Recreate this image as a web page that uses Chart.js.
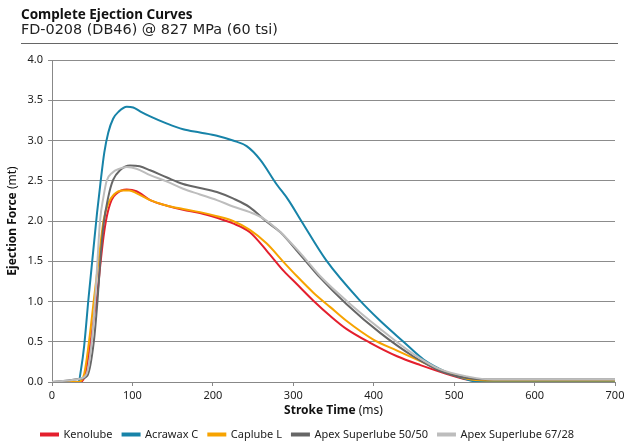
<!DOCTYPE html>
<html>
<head>
<meta charset="utf-8">
<script src="https://cdn.jsdelivr.net/npm/chart.js@4/dist/chart.umd.min.js"></script>
<style>
  body { margin: 0; width: 624px; height: 444px; overflow: hidden; background: #fff; font-family: "Noto Sans", sans-serif; }
  #title { position: absolute; left: 21px; top: 5px; font-size: 13.5px; font-weight: bold; color: #111; }
  #subtitle { position: absolute; left: 21px; top: 21px; font-family: "DejaVu Sans", sans-serif; font-size: 14.4px; color: #222; }
  #rule { position: absolute; left: 21px; top: 43px; width: 597px; height: 1px; background: #666; }
  #wrap { position: absolute; left: 0; top: 0; width: 624px; height: 444px; }
</style>
</head>
<body>
<div id="wrap"><canvas id="chart"></canvas></div>
<div id="title">Complete Ejection Curves</div>
<div id="subtitle">FD-0208 (DB46) @ 827 MPa (60 tsi)</div>
<div id="rule"></div>
<script>
// stroke time (ms) / ejection force (mt)
const kenoT = [0, 35, 41, 45, 48, 52, 56, 60, 64, 68, 74, 80, 93, 105, 122, 143, 163, 184, 205, 225, 246, 267, 288, 304, 325, 346, 366, 395, 429, 458, 491, 516, 540, 700];
const kenoF = [0, 0, 0.08, 0.3, 0.5, 0.8, 1.05, 1.45, 1.8, 2.05, 2.26, 2.34, 2.39, 2.37, 2.26, 2.19, 2.14, 2.10, 2.04, 1.97, 1.86, 1.63, 1.38, 1.22, 1.01, 0.82, 0.66, 0.49, 0.32, 0.21, 0.10, 0.03, 0.01, 0.01];

const acraT = [0, 33, 36, 40, 45.5, 51, 56, 60, 65, 70, 76, 83, 93, 101, 110, 122, 143, 163, 184, 205, 225, 242, 259, 279, 294, 310, 341, 383, 408, 437, 462, 491, 516, 532, 700];
const acraF = [0, 0, 0.15, 0.45, 1.05, 1.6, 2.1, 2.45, 2.85, 3.1, 3.27, 3.36, 3.42, 3.41, 3.36, 3.30, 3.21, 3.14, 3.10, 3.06, 3.0, 2.93, 2.76, 2.46, 2.26, 2.0, 1.51, 1.01, 0.76, 0.5, 0.28, 0.12, 0.03, 0, 0];

const capT = [0, 33, 40, 46, 53, 59, 64, 70, 77, 88, 96, 106, 122, 143, 163, 184, 205, 225, 246, 267, 288, 304, 325, 346, 366, 399, 429, 458, 491, 516, 540, 700];
const capF = [0, 0, 0.1, 0.5, 1.1, 1.6, 2.0, 2.22, 2.33, 2.38, 2.38, 2.34, 2.26, 2.19, 2.15, 2.11, 2.06, 2.0, 1.89, 1.72, 1.49, 1.32, 1.11, 0.93, 0.76, 0.53, 0.39, 0.26, 0.12, 0.04, 0.02, 0.02];

const apex50T = [0, 20, 35, 44, 52, 56.5, 60, 64, 70, 76, 84.5, 97, 109, 122, 143, 163, 184, 205, 225, 246, 267, 284, 308, 333, 366, 408, 449, 482, 516, 553, 700];
const apex50F = [0, 0.02, 0.04, 0.08, 0.5, 1.0, 1.5, 1.95, 2.3, 2.51, 2.63, 2.69, 2.68, 2.63, 2.54, 2.46, 2.41, 2.36, 2.28, 2.17, 1.99, 1.86, 1.59, 1.30, 0.97, 0.61, 0.32, 0.14, 0.05, 0.03, 0.03];

const apex67T = [0, 20, 35, 43, 49.4, 53.5, 56.5, 59.7, 64, 68, 75, 84, 93, 105, 122, 143, 163, 184, 205, 225, 246, 263, 284, 308, 333, 366, 408, 449, 482, 516, 549, 700];
const apex67F = [0, 0.02, 0.04, 0.1, 0.5, 1.0, 1.5, 2.0, 2.3, 2.5, 2.6, 2.65, 2.67, 2.65, 2.57, 2.49, 2.40, 2.33, 2.26, 2.18, 2.11, 2.03, 1.86, 1.61, 1.32, 1.01, 0.66, 0.35, 0.16, 0.07, 0.03, 0.03];

const seriesNames = ["Kenolube", "Acrawax C", "Caplube L", "Apex Superlube 50/50", "Apex Superlube 67/28"];
const seriesColors = ["#e41f2d", "#1783a8", "#f7a300", "#666666", "#bdbdbd"];

function pts(t, f) {
  return t.map((x, i) => ({ x: x, y: f[i] }));
}

const lines = [pts(kenoT, kenoF), pts(acraT, acraF), pts(capT, capF), pts(apex50T, apex50F), pts(apex67T, apex67F)];

// axis titles with a bold part and a plain part
const axisTitles = {
  id: "axisTitles",
  afterDraw(chart) {
    const { ctx, chartArea } = chart;
    ctx.save();
    ctx.fillStyle = "#111";
    ctx.textBaseline = "middle";
    const draw = (bold, plain, cx, cy) => {
      ctx.font = "bold 12px 'Noto Sans'";
      const w1 = ctx.measureText(bold).width;
      ctx.font = "12px 'Noto Sans'";
      const w2 = ctx.measureText(plain).width;
      let x = cx - (w1 + w2) / 2;
      ctx.textAlign = "left";
      ctx.font = "bold 12px 'Noto Sans'";
      ctx.fillText(bold, x, cy);
      ctx.font = "12px 'Noto Sans'";
      ctx.fillText(plain, x + w1, cy);
    };
    draw("Stroke Time", " (ms)", (chartArea.left + chartArea.right) / 2, 411);
    ctx.translate(13, (chartArea.top + chartArea.bottom) / 2);
    ctx.rotate(-Math.PI / 2);
    draw("Ejection Force", " (mt)", 0, 0);
    ctx.restore();
  }
};

new Chart(document.getElementById("chart"), {
  type: "line",
  data: {
    datasets: lines.map((d, i) => ({
      label: seriesNames[i],
      data: d,
      borderColor: seriesColors[i],
      backgroundColor: seriesColors[i],
      borderWidth: 2,
      pointRadius: 0,
      cubicInterpolationMode: "monotone",
      order: 5 - i
    }))
  },
  options: {
    responsive: true,
    maintainAspectRatio: false,
    animation: false,
    layout: { padding: { top: 60, right: 9, left: 0, bottom: -6 } },
    scales: {
      x: {
        type: "linear",
        min: 0,
        max: 700,
        afterFit: (s) => { s.height = 37; s.paddingLeft = 0; s.paddingRight = 0; },
        ticks: { stepSize: 100, padding: 3, color: "#222", font: { family: "Noto Sans", size: 11 } },
        grid: { drawOnChartArea: false, drawTicks: true, tickLength: 4, color: "#888" },
        border: { color: "#888", width: 1 }
      },
      y: {
        min: 0,
        max: 4,
        afterFit: (s) => { s.width = 52; },
        ticks: { stepSize: 0.5, padding: 5, color: "#222", font: { family: "Noto Sans", size: 11 },
                 callback: (v) => v.toFixed(1) },
        grid: { color: "#8c8c8c", lineWidth: 1, tickLength: 4 },
        border: { color: "#888", width: 1 }
      }
    },
    plugins: {
      legend: {
        display: true,
        position: "bottom",
        labels: {
          boxWidth: 17,
          boxHeight: 2,
          padding: 10,
          color: "#222",
          font: { family: "Noto Sans", size: 11 },
          sort: (a, b) => a.datasetIndex - b.datasetIndex
        }
      },
      tooltip: { enabled: false }
    }
  },
  plugins: [axisTitles]
});
</script>
</body>
</html>
